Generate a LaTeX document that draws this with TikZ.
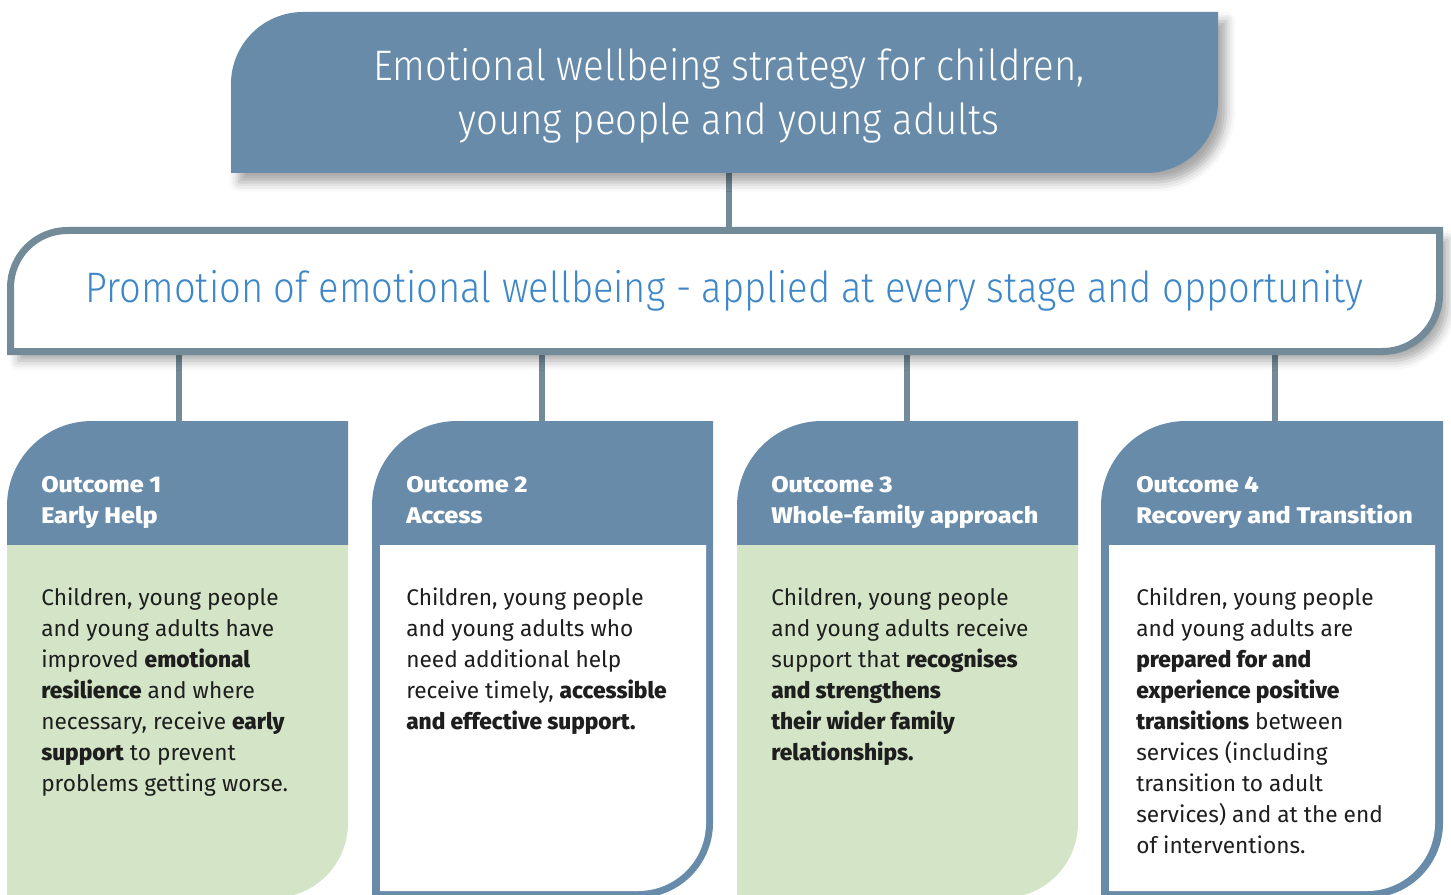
\documentclass[tikz,border=0pt]{standalone}
\usepackage{fontspec}
\setmainfont{Fira Sans}[BoldFont={* ExtraBold}]
\newfontfamily\condfont{Fira Sans}[UprightFont={* Light}, FakeStretch=0.9]
\newfontfamily\banfont{Fira Sans}[UprightFont={* Light}, FakeStretch=0.894]
\newfontfamily\hdrfont{Fira Sans}[UprightFont={* ExtraBold}, FakeStretch=1.11]
\usetikzlibrary{shadows.blur}
\definecolor{hdrblue}{HTML}{688BAA}
\definecolor{linegray}{HTML}{738B98}
\definecolor{paleg}{HTML}{D3E5C6}
\definecolor{promblue}{HTML}{3D87C8}
\definecolor{bodyc}{HTML}{1E1E1E}
\tikzset{
  softshadow/.style={blur shadow={shadow xshift=6pt, shadow yshift=-7pt, shadow blur radius=7pt, shadow opacity=35}},
  connector/.style={draw=linegray, line width=4.5pt},
  hdrtxt/.style={anchor=north west, inner sep=0pt, align=left, text=white, font=\hdrfont\fontsize{17}{23.25}\selectfont},
  bodytxt/.style={anchor=north west, inner sep=0pt, align=left, text=bodyc, font=\fontsize{17}{23.25}\selectfont},
}
\begin{document}
\begin{tikzpicture}[x=0.75pt,y=0.75pt]
\useasboundingbox (0,0) rectangle (1451,894);
% connector coordinates
\coordinate (tb) at (729,721);
\coordinate (bt) at (729,660);
\coordinate (b1) at (179,539); \coordinate (o1) at (179,473);
\coordinate (b2) at (542,539); \coordinate (o2) at (542,473);
\coordinate (b3) at (907,539); \coordinate (o3) at (907,473);
\coordinate (b4) at (1275,539); \coordinate (o4) at (1275,473);
\draw[connector] (tb) -- (bt);
\draw[connector] (b1) -- (o1);
\draw[connector] (b2) -- (o2);
\draw[connector] (b3) -- (o3);
\draw[connector] (b4) -- (o4);
% title box
\path[fill=hdrblue, softshadow] (231,721) -- (231,810) arc[start angle=180,end angle=90,radius=72] -- (1218,882) -- (1218,793) arc[start angle=0,end angle=-90,radius=72] -- cycle;
\node[align=center, inner sep=0pt, text=white, font=\condfont\fontsize{32}{40.5}\selectfont] (title) at (729,798.5) {Emotional wellbeing strategy for children,\\young people and young adults};
% banner
\path[draw=linegray, line width=5.25pt, fill=white, softshadow] (10.5,542.5) -- (10.5,606.5) arc[start angle=180,end angle=90,radius=57] -- (1439.5,663.5) -- (1439.5,599.5) arc[start angle=0,end angle=-90,radius=57] -- cycle;
\node[anchor=base, inner sep=0pt, text=promblue, font=\banfont\fontsize{32}{40.5}\selectfont] (banner) at (724.5,591) {Promotion of emotional wellbeing - applied at every stage and opportunity};
% outcome 1 (green)
\fill[hdrblue] (7,349) -- (7,388) arc[start angle=180,end angle=90,radius=85] -- (348,473) -- (348,349) -- cycle;
\fill[paleg] (7,349) -- (348,349) -- (348,71) arc[start angle=0,end angle=-90,radius=75] -- (7,-4) -- cycle;
% outcome 2 (white)
\fill[hdrblue] (372,-4) -- (372,388) arc[start angle=180,end angle=90,radius=85] -- (713,473) -- (713,71) arc[start angle=0,end angle=-90,radius=75] -- cycle;
\fill[white] (380,349) -- (706,349) -- (706,71) arc[start angle=0,end angle=-90,radius=68] -- (380,3) -- cycle;
% outcome 3 (green)
\fill[hdrblue] (737,349) -- (737,388) arc[start angle=180,end angle=90,radius=85] -- (1078,473) -- (1078,349) -- cycle;
\fill[paleg] (737,349) -- (1078,349) -- (1078,71) arc[start angle=0,end angle=-90,radius=75] -- (737,-4) -- cycle;
% outcome 4 (white)
\fill[hdrblue] (1101,-4) -- (1101,388) arc[start angle=180,end angle=90,radius=85] -- (1443,473) -- (1443,71) arc[start angle=0,end angle=-90,radius=75] -- cycle;
\fill[white] (1109,349) -- (1435,349) -- (1435,71) arc[start angle=0,end angle=-90,radius=68] -- (1109,3) -- cycle;
% headers
\node[hdrtxt] (h1) at (41,418) {Outcome 1\\Early Help};
\node[hdrtxt] (h2) at (406,418) {Outcome 2\\Access};
\node[hdrtxt] (h3) at (771,418) {Outcome 3\\Whole-family approach};
\node[hdrtxt] (h4) at (1136,418) {Outcome 4\\Recovery and Transition};
% bodies
\node[bodytxt] (t1) at (41,306) {Children, young people\\and young adults have\\improved \textbf{emotional}\\\textbf{resilience} and where\\necessary, receive \textbf{early}\\\textbf{support} to prevent\\problems getting worse.};
\node[bodytxt] (t2) at (406,306) {Children, young people\\and young adults who\\need additional help\\receive timely, \textbf{accessible}\\\textbf{and effective support.}};
\node[bodytxt] (t3) at (771,306) {Children, young people\\and young adults receive\\support that \textbf{recognises}\\\textbf{and strengthens}\\\textbf{their wider family}\\\textbf{relationships.}};
\node[bodytxt] (t4) at (1136,306) {Children, young people\\and young adults are\\\textbf{prepared for and}\\\textbf{experience positive}\\\textbf{transitions} between\\services (including\\transition to adult\\services) and at the end\\of interventions.};
\end{tikzpicture}
\end{document}
